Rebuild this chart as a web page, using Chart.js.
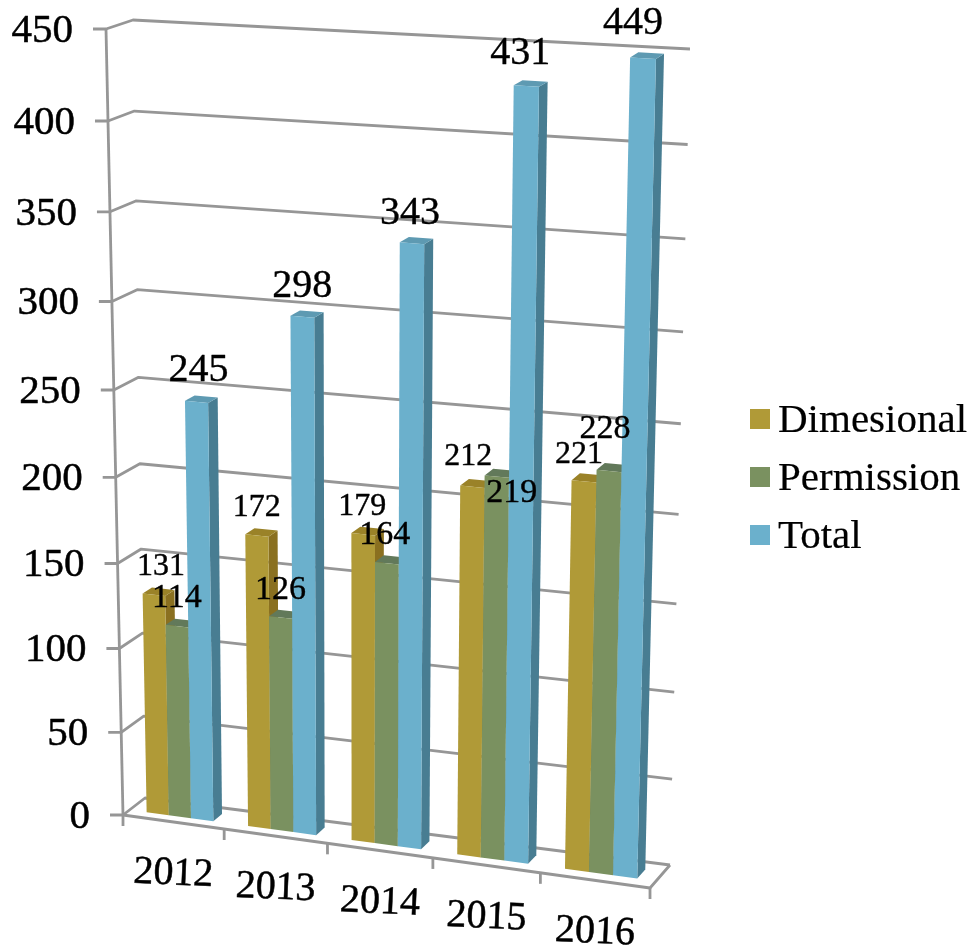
<!DOCTYPE html>
<html>
<head>
<meta charset="utf-8">
<style>
  html, body { margin: 0; padding: 0; background: #fff; }
  canvas { display: block; }
</style>
<script src="https://cdn.jsdelivr.net/npm/chart.js@4"></script>
</head>
<body>
<canvas id="chart" width="974" height="948"></canvas>
<script>
var years = ['2012', '2013', '2014', '2015', '2016'];
var dimesional = [131, 172, 179, 212, 221];
var permission = [114, 126, 164, 219, 228];
var total = [245, 298, 343, 431, 449];

// ── Hand placed label nudges, px from the bar's front top edge ──
var dimesionalNudge = [[7, -30], [0, -30], [-1, -30], [-4, -32], [-5, -29]];
var permissionNudge = [[0, -30], [0, -29], [-2, -30], [15, 15], [-4, -44]];
var totalNudge = [[2, -33], [0, -32], [-2, -32], [-6, -34], [-10, -37]];

var SERIF = '"Liberation Serif", serif';
var GRID = '#969696';

// The 3D box the chart sits in: [front, back] x [bottom, top] x [left, right]
var BOX = {
  frontBottomLeft: [123, 815], frontBottomRight: [650, 888],
  frontTopLeft: [106, 29], frontTopRight: [670, 62],
  backBottomLeft: [145, 798], backBottomRight: [670, 865],
  backTopLeft: [133, 20], backTopRight: [690, 49],
};
var BAR_FRONT = 0.3;
var BAR_BACK = 0.7;

function mix(a, b, t) {
  return [a[0] + (b[0] - a[0]) * t, a[1] + (b[1] - a[1]) * t];
}

// u across the categories, v up the value axis, w into the depth
function project(u, v, w) {
  var uu = u - 0.05 * u * (1 - u);
  var vv = v - 0.06 * v * (1 - v);
  var front = mix(mix(BOX.frontBottomLeft, BOX.frontBottomRight, uu),
                  mix(BOX.frontTopLeft, BOX.frontTopRight, uu), vv);
  var back = mix(mix(BOX.backBottomLeft, BOX.backBottomRight, uu),
                 mix(BOX.backTopLeft, BOX.backTopRight, uu), vv);
  return mix(front, back, w);
}

function poly(ctx, pts, fill) {
  ctx.beginPath();
  pts.forEach(function (p, i) {
    if (i === 0) ctx.moveTo(p[0], p[1]); else ctx.lineTo(p[0], p[1]);
  });
  ctx.closePath();
  ctx.fillStyle = fill;
  ctx.fill();
}

function stroke(ctx, pts) {
  ctx.beginPath();
  pts.forEach(function (p, i) {
    if (i === 0) ctx.moveTo(p[0], p[1]); else ctx.lineTo(p[0], p[1]);
  });
  ctx.stroke();
}

// reference text is heavier than Liberation Serif, so thicken it a bit
function heavyText(ctx, text, x, y, weight) {
  ctx.fillStyle = '#000';
  ctx.strokeStyle = '#000';
  ctx.lineWidth = weight;
  ctx.lineJoin = 'round';
  ctx.strokeText(text, x, y);
  ctx.fillText(text, x, y);
}

function drawBox(chart, ctx) {
  var area = chart.chartArea;
  var yScale = chart.scales.y;

  function gridPen() {
    ctx.strokeStyle = GRID;
    ctx.lineWidth = 2.8;
    ctx.lineJoin = 'round';
  }

  gridPen();
  stroke(ctx, [project(0, 0, 0), project(0, 1, 0)]);
  yScale.ticks.forEach(function (tick) {
    var v = (area.bottom - yScale.getPixelForValue(tick.value)) / area.height;
    var a = project(0, v, 0);
    gridPen();
    stroke(ctx, [[a[0] - 13, a[1]], a, project(0, v, 1), project(1, v, 1)]);
    ctx.font = '41px ' + SERIF;
    ctx.textAlign = 'right';
    ctx.textBaseline = 'middle';
    heavyText(ctx, tick.label, a[0] - 33, a[1] + 2, 0.5);
  });

  // floor
  gridPen();
  stroke(ctx, [project(0, 0, 0), project(1, 0, 0), project(1, 0, 1)]);

  var n = years.length;
  for (var i = 0; i <= n; i++) {
    var p = project(i / n, 0, 0);
    stroke(ctx, [p, [p[0], p[1] + 11]]);
  }

  years.forEach(function (year, i) {
    var c = project((i + 0.5) / n, 0, 0);
    ctx.save();
    ctx.translate(c[0], c[1] + 52);
    ctx.rotate(2.5 * Math.PI / 180);
    ctx.font = '40px ' + SERIF;
    ctx.textAlign = 'center';
    ctx.textBaseline = 'middle';
    heavyText(ctx, year, 0, 0, 0.5);
    ctx.restore();
  });
}

function drawBars(chart, ctx) {
  var area = chart.chartArea;
  chart.data.datasets.forEach(function (ds, d) {
    chart.getDatasetMeta(d).data.forEach(function (bar) {
      var l = (bar.x - bar.width / 2 - area.left) / area.width;
      var r = (bar.x + bar.width / 2 - area.left) / area.width;
      var v = (area.bottom - bar.y) / area.height;
      poly(ctx, [project(r, 0, BAR_FRONT), project(r, 0, BAR_BACK),
                 project(r, v, BAR_BACK), project(r, v, BAR_FRONT)], ds.sideColor);
      poly(ctx, [project(l, v, BAR_FRONT), project(r, v, BAR_FRONT),
                 project(r, v, BAR_BACK), project(l, v, BAR_BACK)], ds.topColor);
      poly(ctx, [project(l, 0, BAR_FRONT), project(r, 0, BAR_FRONT),
                 project(r, v, BAR_FRONT), project(l, v, BAR_FRONT)], ds.backgroundColor);
    });
  });
}

function drawValues(chart, ctx) {
  var area = chart.chartArea;
  chart.data.datasets.forEach(function (ds, d) {
    chart.getDatasetMeta(d).data.forEach(function (bar, i) {
      var u = (bar.x - area.left) / area.width;
      var v = (area.bottom - bar.y) / area.height;
      var p = project(u, v, BAR_FRONT);
      ctx.font = ds.valueFont + 'px ' + SERIF;
      ctx.textAlign = 'center';
      ctx.textBaseline = 'middle';
      heavyText(ctx, String(ds.data[i]), p[0] + ds.nudge[i][0], p[1] + ds.nudge[i][1] + 2, 0.4);
    });
  });
}

function drawLegend(chart, ctx) {
  chart.data.datasets.forEach(function (ds, d) {
    var y = 419 + d * 58;
    ctx.fillStyle = ds.backgroundColor;
    ctx.fillRect(750, y - 10, 20, 20);
    ctx.font = '41px ' + SERIF;
    ctx.textAlign = 'left';
    ctx.textBaseline = 'middle';
    heavyText(ctx, ds.label, 778, y + 2, 0.2);
  });
}

var perspective = {
  id: 'perspective',
  beforeDatasetsDraw: function (chart) {
    var ctx = chart.ctx;
    drawBox(chart, ctx);
    drawBars(chart, ctx);
    drawValues(chart, ctx);
    drawLegend(chart, ctx);
    return false; // flat bars stay undrawn
  },
};

new Chart(document.getElementById('chart').getContext('2d'), {
  type: 'bar',
  data: {
    labels: years,
    datasets: [
      { label: 'Dimesional', data: dimesional, backgroundColor: '#B09A37', sideColor: '#8A7020', topColor: '#9A8228', valueFont: 32, nudge: dimesionalNudge },
      { label: 'Permission', data: permission, backgroundColor: '#7A9160', sideColor: '#5A7048', topColor: '#62795A', valueFont: 34, nudge: permissionNudge },
      { label: 'Total', data: total, backgroundColor: '#6BB0CC', sideColor: '#487D92', topColor: '#5E9AB2', valueFont: 40, nudge: totalNudge },
    ],
  },
  options: {
    responsive: false,
    animation: false,
    categoryPercentage: 0.66,
    barPercentage: 1,
    layout: { padding: 0 },
    plugins: {
      legend: { display: false },
      tooltip: { enabled: false },
    },
    scales: {
      x: { display: false },
      y: { display: false, min: 0, max: 450, ticks: { stepSize: 50 } },
    },
  },
  plugins: [perspective],
});
</script>
</body>
</html>
